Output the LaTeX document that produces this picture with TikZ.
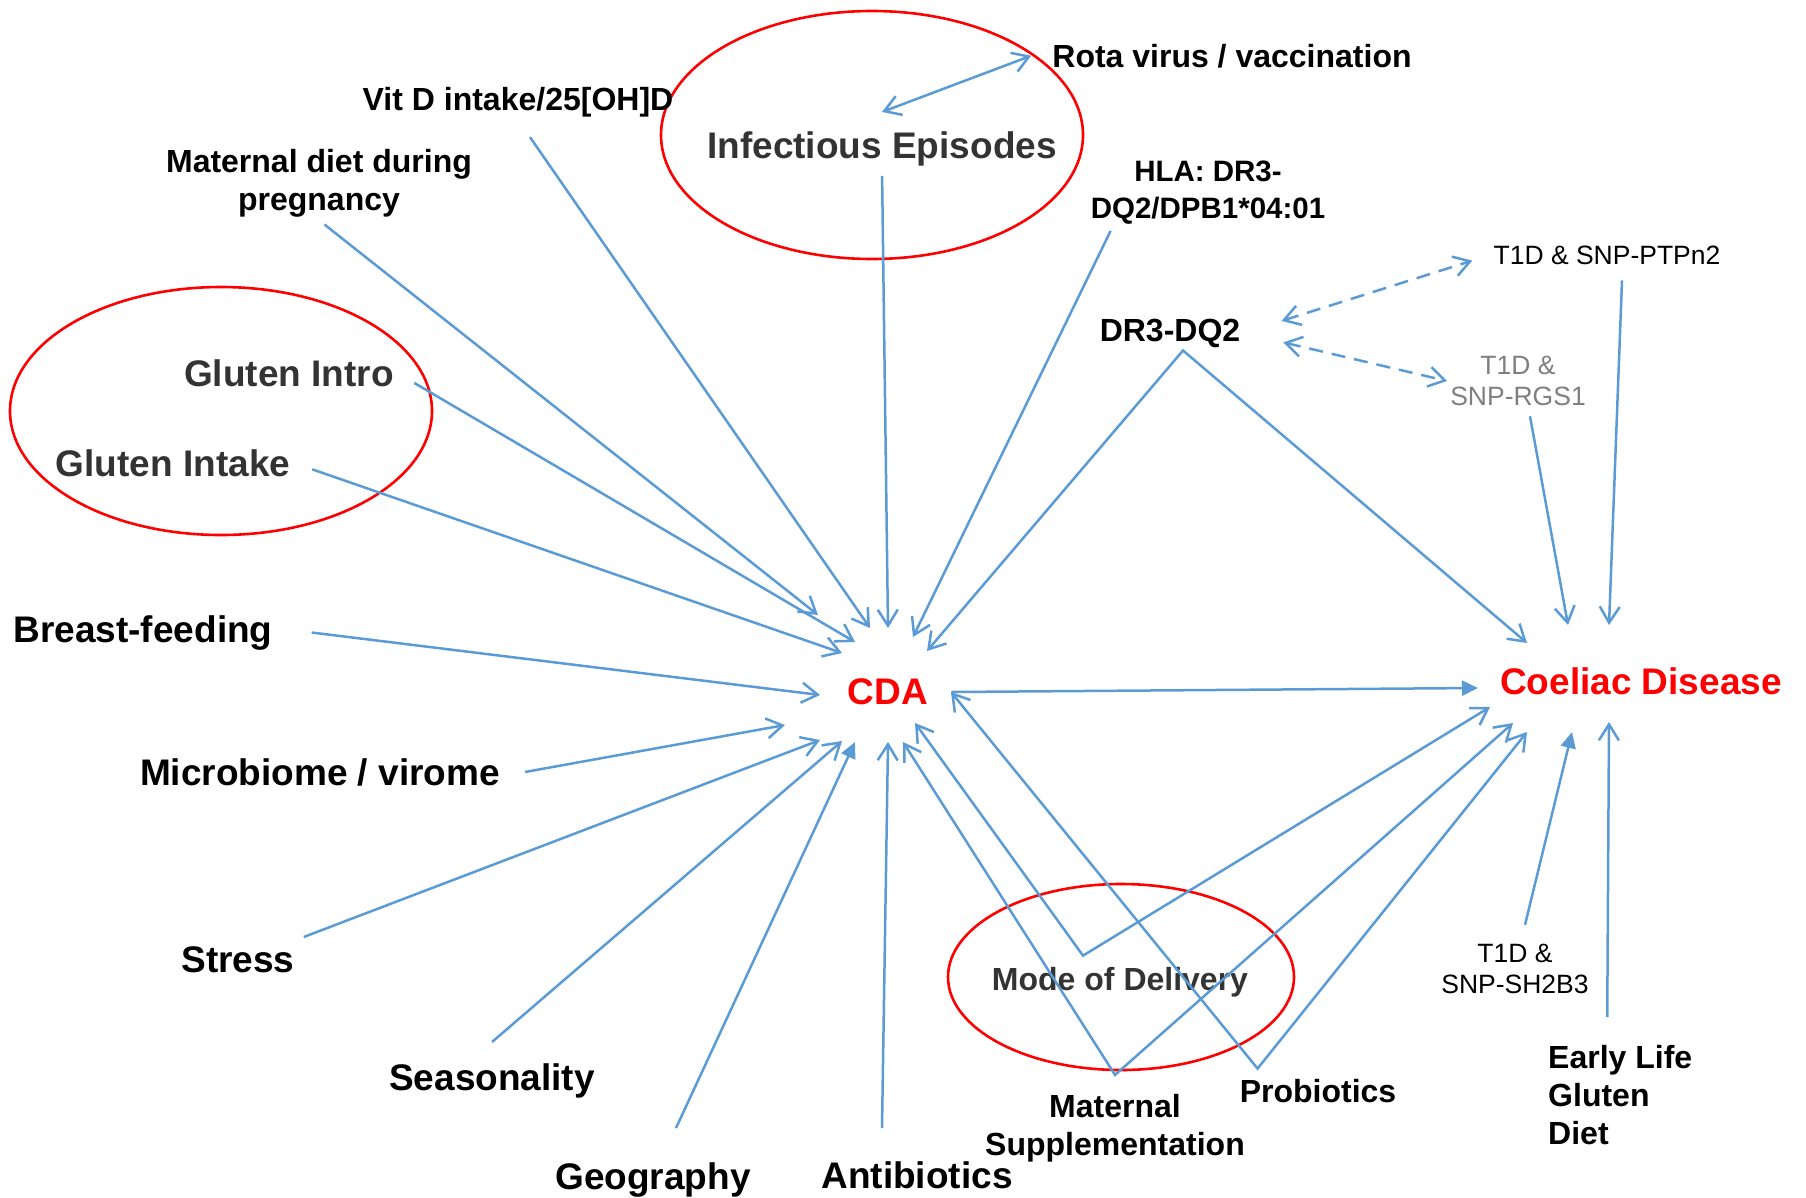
\documentclass[tikz,border=0pt]{standalone}
\usepackage{fontspec}
\setmainfont{Liberation Sans}
\usetikzlibrary{arrows.meta,calc}
\definecolor{linkblue}{HTML}{5B9BD5}
\definecolor{darktext}{HTML}{333333}
\definecolor{greytext}{HTML}{7F7F7F}
\begin{document}
\begin{tikzpicture}[
    x=1pt, y=-1pt,
    factor/.style={font=\fontsize{37}{44}\selectfont\bfseries, inner sep=3pt},
    small/.style={font=\fontsize{32}{38}\selectfont\bfseries, align=center, inner sep=3pt},
    snp/.style={font=\fontsize{26.5}{31.5}\selectfont, align=center, inner sep=3pt},
    outcome/.style={font=\fontsize{37}{44}\selectfont\bfseries, text=red, inner sep=3pt},
    ring/.style={draw=red, line width=2.6pt},
    link/.style={draw=linkblue, line width=2.5pt, -{Straight Barb[length=16pt,width=20pt]}},
    linkfill/.style={draw=linkblue, line width=2.5pt, -{Triangle[length=16pt,width=15pt]}},
    linkboth/.style={draw=linkblue, line width=2.5pt, {Straight Barb[length=16pt,width=20pt]}-{Straight Barb[length=16pt,width=20pt]}},
    linkdash/.style={linkboth, dash pattern=on 14pt off 9pt}
]
\useasboundingbox (0,0) rectangle (1806,1197);

% Outcomes
\node[outcome] (cda) at (888,692) {CDA};
\node[outcome] (cd) at (1641,681) {Coeliac Disease};

% Circled groups
\draw[ring] (872,135) ellipse [x radius=211, y radius=124];
\draw[ring] (221,411) ellipse [x radius=211, y radius=124];
\draw[ring] (1121,977) ellipse [x radius=173, y radius=93];

% Factors - top
\node[small, anchor=base] (rota) at (1232,67) {Rota virus / vaccination};
\node[small, anchor=base] (vitd) at (518,110) {Vit D intake/25[OH]D};
\node[factor, text=darktext, anchor=base] (infect) at (882,158) {Infectious Episodes};
\node[small] (matdiet) at (319,183) {Maternal diet during\\pregnancy};
\node[small, font=\fontsize{29.5}{37}\selectfont\bfseries] (hla) at (1208,193) {HLA: DR3-\\DQ2/DPB1*04:01};

% Genetics
\node[snp, anchor=base] (ptpn) at (1607,264) {T1D \& SNP-PTPn2};
\node[small, anchor=base] (drdq) at (1170,341) {DR3-DQ2};
\node[snp, text=greytext] (rgs) at (1518,381) {T1D \&\\SNP-RGS1};
\node[snp] (sh2b) at (1515,969) {T1D \&\\SNP-SH2B3};

% Factors - left
\node[factor, text=darktext, anchor=base] (glintro) at (289,386) {Gluten Intro};
\node[factor, text=darktext, anchor=base] (glintake) at (173,476) {Gluten Intake};
\node[factor, anchor=base] (breast) at (143,642) {Breast-feeding};
\node[factor, anchor=base] (micro) at (320,785) {Microbiome / virome};
\node[factor, anchor=base] (stress) at (238,972) {Stress};

% Factors - bottom
\node[factor, anchor=base] (season) at (492,1090) {Seasonality};
\node[factor, anchor=base] (geo) at (653,1189) {Geography};
\node[factor, anchor=base] (anti) at (917,1188) {Antibiotics};
\node[small, text=darktext, anchor=base] (delivery) at (1120,990) {Mode of Delivery};
\node[small] (matsupp) at (1115,1128) {Maternal\\Supplementation};
\node[small, anchor=base] (probio) at (1318,1102) {Probiotics};
\node[small, align=left, anchor=west] (early) at (1545,1095) {Early Life\\Gluten\\Diet};

% Arrow ends round CDA
\coordinate (cda-md) at ($(cda.center)+(-70,-77)$);
\coordinate (cda-gi) at ($(cda.center)+(-33,-50)$);
\coordinate (cda-gk) at ($(cda.center)+(-46,-39)$);
\coordinate (cda-vd) at ($(cda.center)+(-18,-64)$);
\coordinate (cda-ie) at ($(cda.center)+(0,-64)$);
\coordinate (cda-hla) at ($(cda.center)+(25,-55)$);
\coordinate (cda-dr) at ($(cda.center)+(39,-41)$);
\coordinate (cda-bf) at ($(cda.center)+(-68,3)$);
\coordinate (cda-mb) at ($(cda.center)+(-103,33)$);
\coordinate (cda-st) at ($(cda.center)+(-68,48)$);
\coordinate (cda-se) at ($(cda.center)+(-46,49)$);
\coordinate (cda-ge) at ($(cda.center)+(-33,50)$);
\coordinate (cda-an) at ($(cda.center)+(0,50)$);
\coordinate (cda-ms) at ($(cda.center)+(15,50)$);
\coordinate (cda-mo) at ($(cda.center)+(27,31)$);
\coordinate (cda-pr) at ($(cda.center)+(63,0)$);

% Arrow ends round Coeliac Disease
\coordinate (cd-dr) at ($(cd.center)+(-114,-38)$);
\coordinate (cd-rg) at ($(cd.center)+(-73,-56)$);
\coordinate (cd-pt) at ($(cd.center)+(-32,-56)$);
\coordinate (cd-cda) at ($(cd.center)+(-163,7)$);
\coordinate (cd-mo) at ($(cd.center)+(-151,26)$);
\coordinate (cd-ms) at ($(cd.center)+(-128,42)$);
\coordinate (cd-pr) at ($(cd.center)+(-114,51)$);
\coordinate (cd-sh) at ($(cd.center)+(-69,51)$);
\coordinate (cd-el) at ($(cd.center)+(-32,41)$);

% Arrows - top into CDA
\draw[link, shorten <=7pt] (matdiet.south) -- (cda-md);
\draw[link, shorten <=21pt] (vitd.south) -- (cda-vd);
\draw[link, shorten <=7pt] (infect.south) -- (cda-ie);
\draw[link] ([xshift=23pt,yshift=-3pt]hla.south west) -- (cda-hla);
\draw[linkboth] ([yshift=16pt]infect.north) -- ([xshift=-18pt]rota.west);

% Arrows - left into CDA
\draw[link, shorten <=20pt] (glintro.east) -- (cda-gi);
\draw[link, shorten <=20pt] (glintake.east) -- (cda-gk);
\draw[link] ([xshift=36pt]breast.east) -- (cda-bf);
\draw[link] ([xshift=22pt]micro.east) -- (cda-mb);
\draw[link] ([xshift=6pt,yshift=6pt]stress.north east) -- (cda-st);

% Arrows - bottom into CDA
\draw[link] ([yshift=18pt]season.north) -- (cda-se);
\draw[linkfill] ([xshift=23pt,yshift=31pt]geo.north) -- (cda-ge);
\draw[link] ([xshift=-35pt,yshift=30pt]anti.north) -- (cda-an);

% Arrows - shared by CDA and Coeliac Disease
\draw[linkboth] (cda-dr) -- ([xshift=13pt,yshift=0pt]drdq.south) -- (cd-dr);
\draw[linkboth] (cda-mo) -- ([xshift=-37pt,yshift=8pt]delivery.north) -- (cd-mo);
\draw[linkboth] (cda-ms) -- ([yshift=16pt]matsupp.north) -- (cd-ms);
\draw[linkboth] (cda-pr) -- ([xshift=21pt,yshift=7pt]probio.north west) -- (cd-pr);
\draw[linkfill] ([xshift=20pt]cda.east) -- (cd-cda);

% Arrows - genetics
\draw[linkdash, shorten <=40pt, shorten >=19pt] (drdq.east) -- (ptpn.west);
\draw[linkdash, shorten <=41pt] (drdq.east) -- (rgs.west);
\draw[link] ([xshift=15pt,yshift=-13pt]ptpn.south) -- (cd-pt);
\draw[link] ([xshift=12pt,yshift=-7pt]rgs.south) -- (cd-rg);
\draw[linkfill] ([xshift=10pt,yshift=16pt]sh2b.north) -- (cd-sh);
\draw[link] ([xshift=-13pt,yshift=25pt]early.north) -- (cd-el);

\end{tikzpicture}
\end{document}
